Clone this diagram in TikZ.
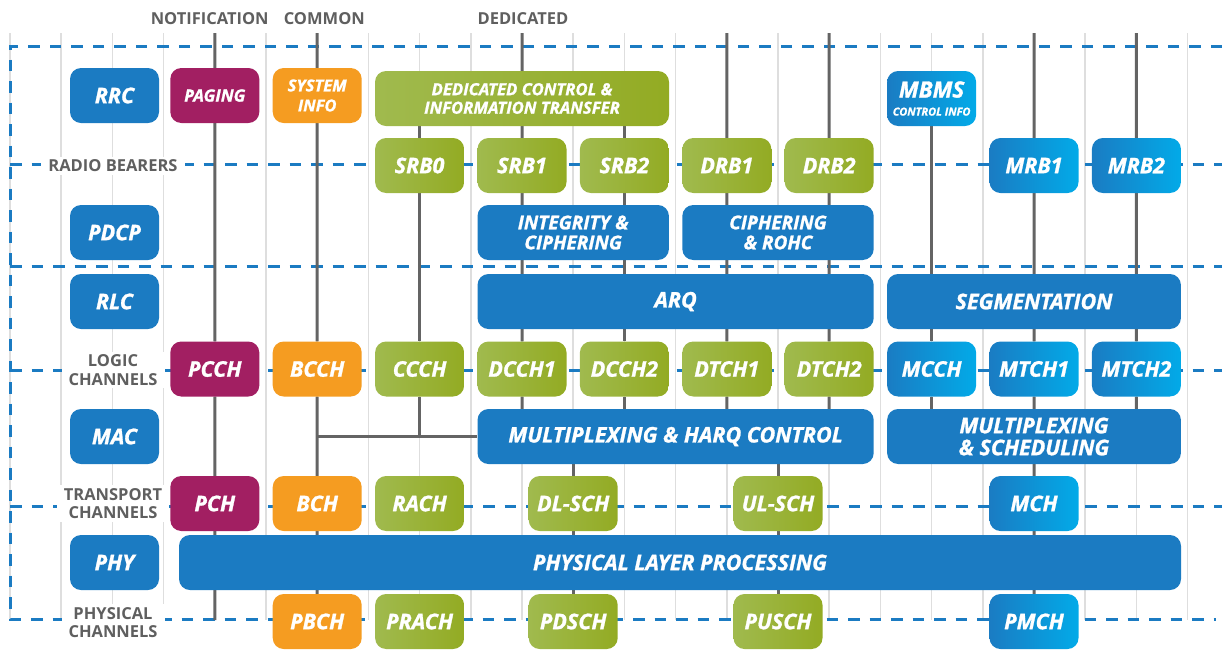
\documentclass[tikz,border=0pt]{standalone}
\usepackage{fontspec}
\setmainfont{Open Sans}[BoldItalicFeatures={FakeBold=1.2}]

\definecolor{lteblue}{HTML}{1B7BC2}
\definecolor{ltemag}{HTML}{A21F62}
\definecolor{lteorange}{HTML}{F59C21}
\definecolor{greenL}{HTML}{A0BA4E}
\definecolor{greenR}{HTML}{93AB23}
\definecolor{cyanL}{HTML}{1A7CC3}
\definecolor{cyanR}{HTML}{02AAE8}
\definecolor{linkgray}{HTML}{646464}
\definecolor{gridgray}{HTML}{DEDEDE}
\definecolor{labelgray}{HTML}{5F5F5F}

\pgfdeclarelayer{grid}
\pgfdeclarelayer{links}
\pgfsetlayers{grid,links,main}

\tikzset{
  chbox/.style={rounded corners=11pt, minimum width=89pt, minimum height=55pt, inner sep=0pt,
    align=center, text=white, font=\fontsize{21.5}{22}\selectfont\bfseries\itshape},
  blue box/.style={chbox, fill=lteblue},
  page box/.style={chbox, fill=ltemag},
  bcast box/.style={chbox, fill=lteorange},
  ded box/.style={chbox, left color=greenL, right color=greenR},
  mbms box/.style={chbox, left color=cyanL, right color=cyanR},
  lbl/.style={fill=white, text=labelgray, align=center, inner xsep=7pt, inner ysep=3pt,
    font=\fontsize{16.5}{18.5}\selectfont\bfseries},
  toplbl/.style={text=labelgray, inner sep=0pt, font=\fontsize{16.5}{18.5}\selectfont\bfseries},
  link/.style={draw=linkgray, line width=3pt},
  zoneline/.style={draw=lteblue, line width=3pt, dash pattern=on 11.5pt off 10pt},
  gridline/.style={draw=gridgray, line width=1.5pt}
}

\begin{document}
\begin{tikzpicture}[x=1pt, y=-1pt]
\useasboundingbox (0,0) rectangle (1222,649);

% column headings
\node[toplbl] (hnotif) at (209.7,19) {NOTIFICATION};
\node[toplbl] (hcommon) at (324.3,19) {COMMON};
\node[toplbl] (hded) at (523,19) {DEDICATED};

% protocol layers
\node[blue box] (rrc) at (114.5,95.5) {RRC};
\node[blue box] (pdcp) at (114.5,232.5) {PDCP};
\node[blue box] (rlc) at (114.5,301.5) {RLC};
\node[blue box] (mac) at (114.5,436.5) {MAC};
\node[blue box] (phy) at (114.5,562.5) {PHY};

% row labels
\node[lbl] (lrb) at (113,166) {RADIO BEARERS};
\node[lbl] (llog) at (113,370) {LOGIC\\CHANNELS};
\node[lbl] (ltr) at (113,503.5) {TRANSPORT\\CHANNELS};
\node[lbl] (lphch) at (113,622.5) {PHYSICAL\\CHANNELS};

% RRC
\node[page box, font=\fontsize{17}{20}\selectfont\bfseries\itshape] (paging) at (214.8,95.5) {PAGING};
\node[bcast box, font=\fontsize{16.5}{20}\selectfont\bfseries\itshape] (sysinfo) at (317.2,95.5) {SYSTEM\\INFO};
\node[ded box, minimum width=294pt, font=\fontsize{16.7}{18.5}\selectfont\bfseries\itshape] (dedicated) at (522,98.5)
  {DEDICATED CONTROL \&\\INFORMATION TRANSFER};
\node[mbms box] (mbms) at (931.6,98.5)
  {{\fontsize{22.5}{22}\selectfont MBMS}\\[-4pt]{\fontsize{11}{12}\selectfont CONTROL INFO}};

% radio bearers
\node[ded box] (srb0) at (419.6,165.5) {SRB0};
\node[ded box] (srb1) at (522,165.5) {SRB1};
\node[ded box] (srb2) at (624.4,165.5) {SRB2};
\node[ded box] (drb1) at (726.8,165.5) {DRB1};
\node[ded box] (drb2) at (829.2,165.5) {DRB2};
\node[mbms box] (mrb1) at (1034,165.5) {MRB1};
\node[mbms box] (mrb2) at (1136.4,165.5) {MRB2};

% PDCP
\node[blue box, minimum width=191.4pt, font=\fontsize{19}{20}\selectfont\bfseries\itshape] (integ) at (573.2,232.5)
  {INTEGRITY \&\\CIPHERING};
\node[blue box, minimum width=191.4pt, font=\fontsize{19}{20}\selectfont\bfseries\itshape] (ciph) at (778,232.5)
  {CIPHERING\\\& ROHC};

% RLC
\node[blue box, minimum width=396.2pt] (arq) at (675.6,301.5) {ARQ};
\node[blue box, minimum width=293.8pt] (segm) at (1034,301.5) {SEGMENTATION};

% logic channels
\node[page box] (pcch) at (214.8,369) {PCCH};
\node[bcast box] (bcch) at (317.2,369) {BCCH};
\node[ded box] (ccch) at (419.6,369) {CCCH};
\node[ded box] (dcch1) at (522,369) {DCCH1};
\node[ded box] (dcch2) at (624.4,369) {DCCH2};
\node[ded box] (dtch1) at (726.8,369) {DTCH1};
\node[ded box] (dtch2) at (829.2,369) {DTCH2};
\node[mbms box] (mcch) at (931.6,369) {MCCH};
\node[mbms box] (mtch1) at (1034,369) {MTCH1};
\node[mbms box] (mtch2) at (1136.4,369) {MTCH2};

% MAC
\node[blue box, minimum width=396.2pt] (mux) at (675.6,436.5) {MULTIPLEXING \& HARQ CONTROL};
\node[blue box, minimum width=293.8pt] (muxs) at (1034,436.5) {MULTIPLEXING\\\& SCHEDULING};

% transport channels
\node[page box] (pch) at (214.8,503.5) {PCH};
\node[bcast box] (bch) at (317.2,503.5) {BCH};
\node[ded box] (rach) at (419.6,503.5) {RACH};
\node[ded box] (dlsch) at (573.2,503.5) {DL-SCH};
\node[ded box] (ulsch) at (778,503.5) {UL-SCH};
\node[mbms box] (mch) at (1034,503.5) {MCH};

% PHY
\node[blue box, minimum width=1002pt] (phys) at (680,562.5) {PHYSICAL LAYER PROCESSING};

% physical channels
\node[bcast box] (pbch) at (317.2,621.5) {PBCH};
\node[ded box] (prach) at (419.6,621.5) {PRACH};
\node[ded box] (pdsch) at (573.2,621.5) {PDSCH};
\node[ded box] (pusch) at (778,621.5) {PUSCH};
\node[mbms box] (pmch) at (1034,621.5) {PMCH};

% grid and zones
\begin{pgfonlayer}{grid}
\foreach \i in {0,...,23}
  \draw[gridline] ({10+51.2*\i},33) -- ({10+51.2*\i},620);
\draw[zoneline] (1222,46) -- (10,46) -- (10,619) -- (1216,619);
\foreach \y in {164,266.5,370,506}
  \draw[zoneline] (10,\y) -- (1222,\y);
\end{pgfonlayer}

% channel mapping
\begin{pgfonlayer}{links}
\foreach \c in {4,6,10,14,16,20,22}
  \coordinate (t\c) at ({10+51.2*\c},33);
\coordinate (b4) at (214.8,620);
\draw[link] (t4) -- (paging) -- (pcch) -- (pch) -- (b4);
\draw[link] (t6) -- (sysinfo) -- (bcch) -- (bch) -- (pbch);
\draw[link] (srb0 |- dedicated.south) -- (srb0) -- (ccch) -- (ccch |- mux.west);
\draw[link] (bcch |- mux.west) -- (mux.west);
\draw[link] (t10) -- (srb1) -- (dcch1) -- (dcch1 |- mux.north);
\draw[link] (srb2 |- dedicated.south) -- (srb2) -- (dcch2) -- (dcch2 |- mux.north);
\draw[link] (t14) -- (drb1) -- (dtch1) -- (dtch1 |- mux.north);
\draw[link] (t16) -- (drb2) -- (dtch2) -- (dtch2 |- mux.north);
\draw[link] (mbms) -- (mcch) -- (mcch |- muxs.north);
\draw[link] (t20) -- (mrb1) -- (mtch1) -- (mch) -- (pmch);
\draw[link] (t22) -- (mrb2) -- (mtch2) -- (mtch2 |- muxs.north);
\draw[link] (dlsch |- mux.south) -- (dlsch) -- (pdsch);
\draw[link] (ulsch |- mux.south) -- (ulsch) -- (pusch);
\end{pgfonlayer}
\end{tikzpicture}
\end{document}
